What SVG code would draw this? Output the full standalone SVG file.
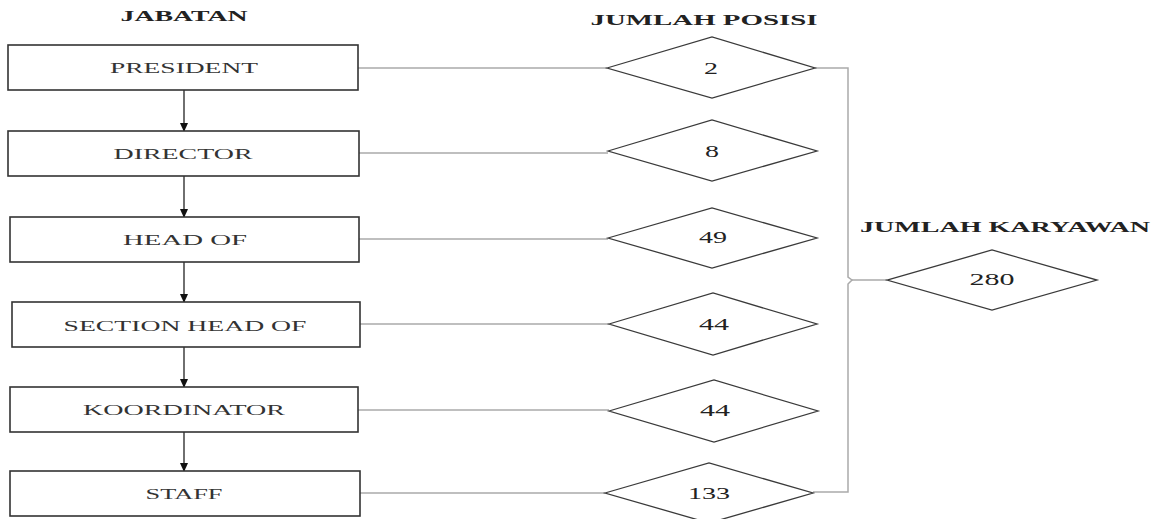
<svg xmlns="http://www.w3.org/2000/svg" width="1155" height="519" viewBox="0 0 1155 519">
  <style>
    .box { fill: #fff; stroke: #333; stroke-width: 1.6; }
    .dia { fill: #fff; stroke: #3a3a3a; stroke-width: 1.3; }
    .lbl { font-family: "Liberation Serif", "Times New Roman", serif; font-size: 15px; fill: #333; text-anchor: middle; }
    .hdr { font-family: "Liberation Serif", "Times New Roman", serif; font-size: 15px; font-weight: bold; fill: #222; text-anchor: middle; }
    .num { font-family: "Liberation Serif", "Times New Roman", serif; font-size: 16px; fill: #222; text-anchor: middle; }
    .link { fill: none; stroke: #aaa; stroke-width: 1.5; }
    .flow { fill: none; stroke: #222; stroke-width: 1.3; }
  </style>
  <defs>
    <marker id="arrow" markerWidth="9" markerHeight="8" refX="8" refY="4" orient="auto" markerUnits="userSpaceOnUse">
      <path d="M0,0 L9,4 L0,8 Z" fill="#111"/>
    </marker>
  </defs>
  <rect width="1155" height="519" fill="#fff"/>

  <!-- column headers -->
  <text class="hdr" x="184" y="21" textLength="127" lengthAdjust="spacingAndGlyphs">JABATAN</text>
  <text class="hdr" x="704" y="25" textLength="227" lengthAdjust="spacingAndGlyphs">JUMLAH POSISI</text>
  <text class="hdr" x="1005" y="232" textLength="290" lengthAdjust="spacingAndGlyphs">JUMLAH KARYAWAN</text>

  <!-- connectors -->
  <g id="connectors">
    <!-- hierarchy arrows -->
    <line class="flow" x1="184" y1="90" x2="184" y2="131" marker-end="url(#arrow)"/>
    <line class="flow" x1="184" y1="176" x2="184" y2="217" marker-end="url(#arrow)"/>
    <line class="flow" x1="184" y1="262" x2="184" y2="302" marker-end="url(#arrow)"/>
    <line class="flow" x1="184" y1="347" x2="184" y2="387" marker-end="url(#arrow)"/>
    <line class="flow" x1="184" y1="432" x2="184" y2="471" marker-end="url(#arrow)"/>
    <!-- position to count links -->
    <line class="link" x1="358" y1="68" x2="607" y2="68"/>
    <line class="link" x1="359" y1="153" x2="608" y2="153"/>
    <line class="link" x1="359" y1="239" x2="608" y2="239"/>
    <line class="link" x1="360" y1="324" x2="609" y2="324"/>
    <line class="link" x1="358" y1="410" x2="609" y2="410"/>
    <line class="link" x1="360" y1="493" x2="605" y2="493"/>
    <!-- brace to total -->
    <path class="link" d="M815,68 H848 V277 L852,280 L848,284 V492 H813"/>
    <line class="link" x1="852" y1="280" x2="887" y2="280"/>
  </g>

  <!-- positions -->
  <g id="president"><rect class="box" x="8" y="45" width="350" height="45"/><text class="lbl" x="184" y="73" textLength="148" lengthAdjust="spacingAndGlyphs">PRESIDENT</text></g>
  <g id="director"><rect class="box" x="8" y="131" width="351" height="45"/><text class="lbl" x="183" y="159" textLength="139" lengthAdjust="spacingAndGlyphs">DIRECTOR</text></g>
  <g id="head-of"><rect class="box" x="10" y="217" width="349" height="45"/><text class="lbl" x="185" y="245" textLength="124" lengthAdjust="spacingAndGlyphs">HEAD OF</text></g>
  <g id="section-head-of"><rect class="box" x="12" y="302" width="348" height="45"/><text class="lbl" x="185" y="331" textLength="243" lengthAdjust="spacingAndGlyphs">SECTION HEAD OF</text></g>
  <g id="koordinator"><rect class="box" x="10" y="387" width="348" height="45"/><text class="lbl" x="184" y="415" textLength="202" lengthAdjust="spacingAndGlyphs">KOORDINATOR</text></g>
  <g id="staff"><rect class="box" x="10" y="471" width="350" height="45"/><text class="lbl" x="184" y="499" textLength="77" lengthAdjust="spacingAndGlyphs">STAFF</text></g>

  <!-- position counts -->
  <g id="count-president"><polygon class="dia" points="607,68 712,37 815,68 712,98"/><text class="num" x="711" y="74" textLength="14" lengthAdjust="spacingAndGlyphs">2</text></g>
  <g id="count-director"><polygon class="dia" points="608,151 712,120 817,151 712,181"/><text class="num" x="712" y="157" textLength="14" lengthAdjust="spacingAndGlyphs">8</text></g>
  <g id="count-head-of"><polygon class="dia" points="608,238 712,208 817,238 712,268"/><text class="num" x="713" y="243" textLength="28" lengthAdjust="spacingAndGlyphs">49</text></g>
  <g id="count-section-head-of"><polygon class="dia" points="609,324 713,293 817,324 713,355"/><text class="num" x="714" y="330" textLength="30" lengthAdjust="spacingAndGlyphs">44</text></g>
  <g id="count-koordinator"><polygon class="dia" points="609,411 714,380 818,411 714,442"/><text class="num" x="715" y="416" textLength="30" lengthAdjust="spacingAndGlyphs">44</text></g>
  <g id="count-staff"><polygon class="dia" points="605,493 709,463 813,493 709,523"/><text class="num" x="709" y="499" textLength="42" lengthAdjust="spacingAndGlyphs">133</text></g>

  <!-- total employees -->
  <g id="total"><polygon class="dia" points="887,280 992,250 1097,280 992,310"/><text class="num" x="992" y="285" textLength="45" lengthAdjust="spacingAndGlyphs">280</text></g>
</svg>
